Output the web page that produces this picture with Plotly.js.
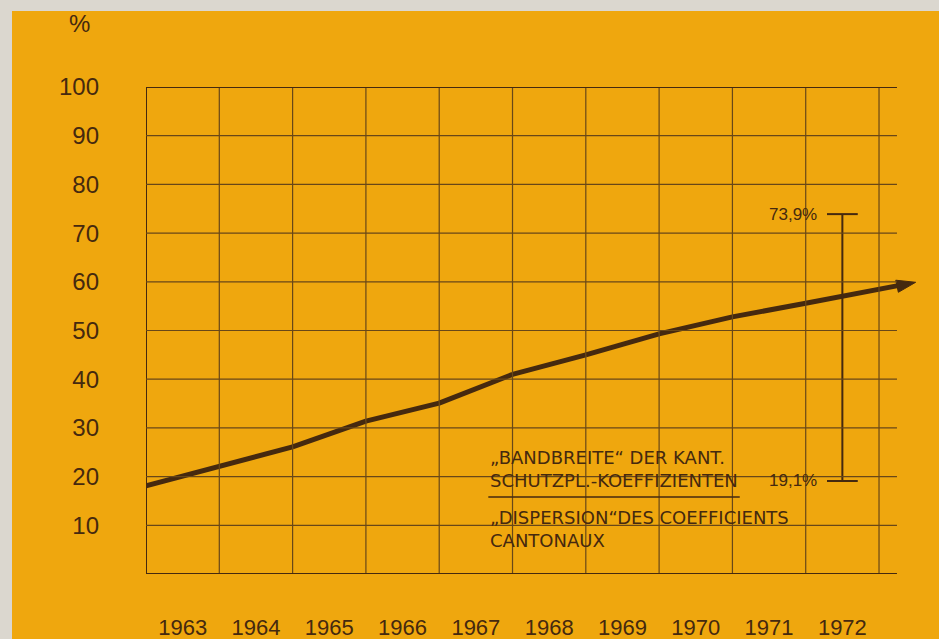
<!DOCTYPE html>
<html><head><meta charset="utf-8">
<script src="https://cdn.plot.ly/plotly-3.0.1.min.js"></script>
<style>
html,body{margin:0;padding:0;background:#dbd7cf;width:939px;height:639px;overflow:hidden}
#chart{position:absolute;left:12px;top:11px;width:927px;height:628px}
</style></head><body><div id="chart"></div>
<script>
// ---- data ----
const years = [1963, 1964, 1965, 1966, 1967, 1968, 1969, 1970, 1971, 1972];
const yearLabels = ['1963', '1964', '1965', '1966', '1967', '1968', '1969', '1970', '1971', '1972'];
const pointYears = [1962.5, 1963.5, 1964.5, 1965.5, 1966.5, 1967.5, 1968.5, 1969.5, 1970.5, 1971.5, 1972.5, 1973.0];
const shareValues = [18.1, 22.0, 26.1, 31.4, 35.1, 41.0, 45.0, 49.3, 52.8, 55.6, 58.3, 59.9];
const yTicks = [10, 20, 30, 40, 50, 60, 70, 80, 90, 100];
const yTickLabels = ['10', '20', '30', '40', '50', '60', '70', '80', '90', '100'];
const rangeYear = 1972;
const rangeValues = [19.1, 73.9];
const rangeLabels = ['19,1%', '73,9%'];
const legendDe = ['„BANDBREITE“ DER KANT.', 'SCHUTZPL.-KOEFFIZIENTEN'];
const legendFr = ['„DISPERSION“DES COEFFICIENTS', 'CANTONAUX'];
const unitLabel = '%';

// ---- styling ----
const ink = '#45290f';
const gridInk = '#684718';
const bg = '#efa70e';
const font = 'Liberation Sans, Arial, sans-serif';
const legendFont = 'DejaVu Sans, Liberation Sans, sans-serif';
const xMin = 1962.5, xMax = 1973.1, gridRight = 1972.745;

const shapes = [];
for (let i = 0; i <= years.length; i++) {
  const xv = years[0] - 0.5 + i;
  shapes.push({type: 'line', xref: 'x', yref: 'y', x0: xv, x1: xv, y0: 0, y1: 100,
    line: {color: i === 0 ? ink : gridInk, width: i === 0 ? 2 : 1.2}});
}
[0].concat(yTicks).forEach(v => {
  const frame = (v === 0 || v === 100);
  shapes.push({type: 'line', xref: 'x', yref: 'y', x0: xMin, x1: gridRight, y0: v, y1: v,
    line: {color: frame ? ink : gridInk, width: frame ? 2 : 1.2}});
});
shapes.push({type: 'line', xref: 'x', yref: 'y', x0: 1967.17, x1: 1970.6, y0: 15.8, y1: 15.8,
  line: {color: ink, width: 1.5}});

const n = shareValues.length;
const traces = [
  {
    type: 'scatter', mode: 'lines+markers', x: pointYears, y: shareValues,
    line: {color: ink, width: 5},
    marker: {symbol: 'arrow', angleref: 'previous', color: ink, opacity: 1, line: {width: 1, color: ink},
      size: shareValues.map((v, i) => i === n - 1 ? 20 : 0)},
    cliponaxis: false, hoverinfo: 'skip'
  },
  {
    type: 'scatter', mode: 'lines+markers', x: [rangeYear, rangeYear], y: rangeValues,
    line: {color: ink, width: 2},
    marker: {symbol: 'line-ew', size: 22, line: {color: ink, width: 2}},
    hoverinfo: 'skip'
  }
];

const annotations = [
  {xref: 'paper', yref: 'paper', x: -0.085, y: 1.13, xanchor: 'center', yanchor: 'middle',
    text: unitLabel, showarrow: false, font: {family: font, size: 24, color: ink}},
  {xref: 'x', yref: 'y', x: 1967.17, y: 21.6, xanchor: 'left', yanchor: 'middle', align: 'left',
    text: legendDe.join('<br>'), showarrow: false, font: {family: legendFont, size: 18, color: ink}},
  {xref: 'x', yref: 'y', x: 1967.17, y: 9.3, xanchor: 'left', yanchor: 'middle', align: 'left',
    text: legendFr.join('<br>'), showarrow: false, font: {family: legendFont, size: 18, color: ink}}
];
rangeValues.forEach((v, i) => {
  annotations.push({xref: 'x', yref: 'y', x: rangeYear - 0.32, y: v, xanchor: 'right', yanchor: 'middle',
    text: rangeLabels[i], showarrow: false, font: {family: font, size: 17, color: ink}});
});

const layout = {
  width: 927, height: 628,
  margin: {l: 134, r: 16, t: 76, b: 65},
  paper_bgcolor: bg, plot_bgcolor: bg,
  showlegend: false,
  font: {family: font, color: ink},
  xaxis: {range: [xMin, xMax], tickvals: years, ticktext: yearLabels, showgrid: false,
    zeroline: false, showline: false, ticks: '', ticklabelstandoff: 38,
    tickfont: {family: font, size: 22, color: ink}},
  yaxis: {range: [0, 100], tickvals: yTicks, ticktext: yTickLabels, showgrid: false,
    zeroline: false, showline: false, ticks: '', ticklabelstandoff: 46,
    tickfont: {family: font, size: 24, color: ink}},
  shapes: shapes,
  annotations: annotations
};

Plotly.newPlot('chart', traces, layout, {staticPlot: true, displayModeBar: false});
</script></body></html>
